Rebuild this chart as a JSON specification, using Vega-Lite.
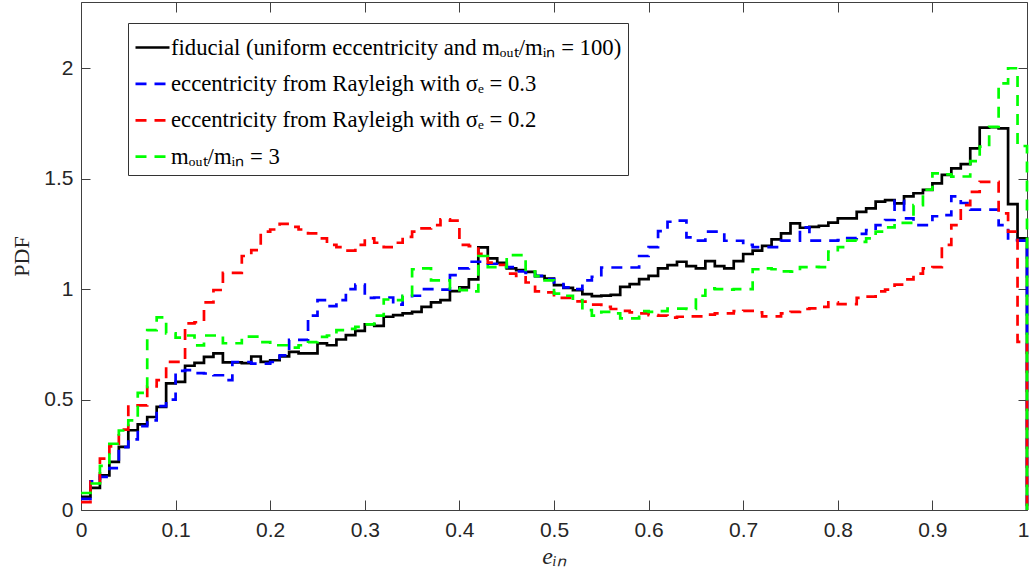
{
 "$schema": "https://vega.github.io/schema/vega-lite/v6.json",
 "width": 946, "height": 508,
 "autosize": {"type": "none"},
 "padding": {"left": 81, "top": 2, "right": 3, "bottom": 61},
 "background": "white",
 "config": {"view": {"stroke": "#404040", "strokeWidth": 1}, "font": "Liberation Sans"},
 "data": {"values": [
  {"e":0.00,"a":0.06,"b":0.05,"c":0.036,"d":0.077},
  {"e":0.01,"a":0.10,"b":0.13,"c":0.127,"d":0.12},
  {"e":0.02,"a":0.157,"b":0.15,"c":0.233,"d":0.2},
  {"e":0.03,"a":0.218,"b":0.19,"c":0.288,"d":0.3},
  {"e":0.04,"a":0.286,"b":0.285,"c":0.364,"d":0.36},
  {"e":0.05,"a":0.361,"b":0.32,"c":0.474,"d":0.406},
  {"e":0.06,"a":0.388,"b":0.38,"c":0.474,"d":0.53},
  {"e":0.07,"a":0.421,"b":0.406,"c":0.56,"d":0.814},
  {"e":0.08,"a":0.467,"b":0.47,"c":0.588,"d":0.872},
  {"e":0.09,"a":0.573,"b":0.50,"c":0.671,"d":0.8},
  {"e":0.10,"a":0.58,"b":0.63,"c":0.671,"d":0.78},
  {"e":0.11,"a":0.653,"b":0.633,"c":0.845,"d":0.79},
  {"e":0.12,"a":0.666,"b":0.62,"c":0.85,"d":0.745},
  {"e":0.13,"a":0.693,"b":0.618,"c":0.94,"d":0.79},
  {"e":0.14,"a":0.709,"b":0.61,"c":0.996,"d":0.79},
  {"e":0.15,"a":0.668,"b":0.588,"c":1.074,"d":0.755},
  {"e":0.16,"a":0.668,"b":0.67,"c":1.074,"d":0.755},
  {"e":0.17,"a":0.665,"b":0.67,"c":1.15,"d":0.785},
  {"e":0.18,"a":0.695,"b":0.663,"c":1.177,"d":0.785},
  {"e":0.19,"a":0.671,"b":0.663,"c":1.26,"d":0.76},
  {"e":0.20,"a":0.678,"b":0.67,"c":1.27,"d":0.746},
  {"e":0.21,"a":0.696,"b":0.70,"c":1.295,"d":0.746},
  {"e":0.22,"a":0.716,"b":0.77,"c":1.282,"d":0.735},
  {"e":0.23,"a":0.709,"b":0.77,"c":1.27,"d":0.746},
  {"e":0.24,"a":0.709,"b":0.88,"c":1.252,"d":0.76},
  {"e":0.25,"a":0.754,"b":0.95,"c":1.23,"d":0.784},
  {"e":0.26,"a":0.746,"b":0.923,"c":1.2,"d":0.79},
  {"e":0.27,"a":0.772,"b":0.95,"c":1.19,"d":0.814},
  {"e":0.28,"a":0.792,"b":1.0,"c":1.174,"d":0.82},
  {"e":0.29,"a":0.811,"b":1.02,"c":1.2,"d":0.829},
  {"e":0.30,"a":0.841,"b":0.96,"c":1.23,"d":0.84},
  {"e":0.31,"a":0.834,"b":0.962,"c":1.21,"d":0.88},
  {"e":0.32,"a":0.875,"b":0.962,"c":1.19,"d":0.953},
  {"e":0.33,"a":0.882,"b":0.93,"c":1.21,"d":0.95},
  {"e":0.34,"a":0.89,"b":0.968,"c":1.237,"d":0.97},
  {"e":0.35,"a":0.897,"b":0.97,"c":1.26,"d":1.09},
  {"e":0.36,"a":0.92,"b":1.0,"c":1.275,"d":1.094},
  {"e":0.37,"a":0.94,"b":1.0,"c":1.29,"d":1.04},
  {"e":0.38,"a":0.95,"b":0.998,"c":1.316,"d":1.04},
  {"e":0.39,"a":0.991,"b":1.063,"c":1.31,"d":1.003},
  {"e":0.40,"a":1.008,"b":1.094,"c":1.2,"d":0.995},
  {"e":0.41,"a":1.044,"b":1.124,"c":1.195,"d":0.99},
  {"e":0.42,"a":1.189,"b":1.124,"c":1.16,"d":1.15},
  {"e":0.43,"a":1.139,"b":1.115,"c":1.12,"d":1.10},
  {"e":0.44,"a":1.119,"b":1.115,"c":1.11,"d":1.10},
  {"e":0.45,"a":1.094,"b":1.10,"c":1.07,"d":1.154},
  {"e":0.46,"a":1.086,"b":1.08,"c":1.06,"d":1.154},
  {"e":0.47,"a":1.078,"b":1.074,"c":1.03,"d":1.08},
  {"e":0.48,"a":1.059,"b":1.06,"c":0.99,"d":1.059},
  {"e":0.49,"a":1.048,"b":1.045,"c":0.985,"d":1.04},
  {"e":0.50,"a":1.018,"b":1.03,"c":0.96,"d":0.98},
  {"e":0.51,"a":1.006,"b":1.008,"c":0.96,"d":0.97},
  {"e":0.52,"a":0.995,"b":1.0,"c":0.945,"d":0.95},
  {"e":0.53,"a":0.977,"b":1.04,"c":0.943,"d":0.905},
  {"e":0.54,"a":0.968,"b":1.056,"c":0.93,"d":0.88},
  {"e":0.55,"a":0.971,"b":1.098,"c":0.92,"d":0.897},
  {"e":0.56,"a":0.974,"b":1.098,"c":0.91,"d":0.89},
  {"e":0.57,"a":1.01,"b":1.098,"c":0.902,"d":0.868},
  {"e":0.58,"a":1.023,"b":1.098,"c":0.895,"d":0.868},
  {"e":0.59,"a":1.045,"b":1.15,"c":0.89,"d":0.9},
  {"e":0.60,"a":1.06,"b":1.19,"c":0.882,"d":0.897},
  {"e":0.61,"a":1.094,"b":1.263,"c":0.88,"d":0.90},
  {"e":0.62,"a":1.109,"b":1.305,"c":0.871,"d":0.912},
  {"e":0.63,"a":1.124,"b":1.31,"c":0.875,"d":0.912},
  {"e":0.64,"a":1.104,"b":1.234,"c":0.877,"d":0.91},
  {"e":0.65,"a":1.094,"b":1.22,"c":0.877,"d":0.97},
  {"e":0.66,"a":1.127,"b":1.26,"c":0.885,"d":1.003},
  {"e":0.67,"a":1.104,"b":1.26,"c":0.89,"d":1.0},
  {"e":0.68,"a":1.094,"b":1.219,"c":0.89,"d":0.998},
  {"e":0.69,"a":1.127,"b":1.219,"c":0.9,"d":1.0},
  {"e":0.70,"a":1.159,"b":1.2,"c":0.902,"d":1.0},
  {"e":0.71,"a":1.174,"b":1.19,"c":0.895,"d":1.09},
  {"e":0.72,"a":1.196,"b":1.19,"c":0.877,"d":1.094},
  {"e":0.73,"a":1.225,"b":1.19,"c":0.877,"d":1.09},
  {"e":0.74,"a":1.252,"b":1.22,"c":0.89,"d":1.08},
  {"e":0.75,"a":1.298,"b":1.22,"c":0.897,"d":1.079},
  {"e":0.76,"a":1.278,"b":1.28,"c":0.91,"d":1.10},
  {"e":0.77,"a":1.282,"b":1.22,"c":0.913,"d":1.101},
  {"e":0.78,"a":1.287,"b":1.22,"c":0.92,"d":1.10},
  {"e":0.79,"a":1.301,"b":1.22,"c":0.94,"d":1.17},
  {"e":0.80,"a":1.32,"b":1.222,"c":0.932,"d":1.19},
  {"e":0.81,"a":1.32,"b":1.231,"c":0.932,"d":1.22},
  {"e":0.82,"a":1.35,"b":1.25,"c":0.96,"d":1.214},
  {"e":0.83,"a":1.366,"b":1.267,"c":0.966,"d":1.23},
  {"e":0.84,"a":1.396,"b":1.29,"c":0.99,"d":1.26},
  {"e":0.85,"a":1.403,"b":1.313,"c":0.998,"d":1.28},
  {"e":0.86,"a":1.388,"b":1.40,"c":1.02,"d":1.30},
  {"e":0.87,"a":1.42,"b":1.32,"c":1.044,"d":1.30},
  {"e":0.88,"a":1.434,"b":1.29,"c":1.07,"d":1.38},
  {"e":0.89,"a":1.449,"b":1.29,"c":1.094,"d":1.45},
  {"e":0.90,"a":1.479,"b":1.33,"c":1.1,"d":1.524},
  {"e":0.91,"a":1.517,"b":1.335,"c":1.2,"d":1.52},
  {"e":0.92,"a":1.547,"b":1.42,"c":1.29,"d":1.509},
  {"e":0.93,"a":1.566,"b":1.39,"c":1.38,"d":1.51},
  {"e":0.94,"a":1.637,"b":1.36,"c":1.44,"d":1.58},
  {"e":0.95,"a":1.731,"b":1.36,"c":1.486,"d":1.645},
  {"e":0.96,"a":1.733,"b":1.36,"c":1.486,"d":1.735},
  {"e":0.97,"a":1.728,"b":1.29,"c":1.343,"d":1.932},
  {"e":0.98,"a":1.385,"b":1.222,"c":1.26,"d":2.0},
  {"e":0.99,"a":1.23,"b":1.22,"c":0.761,"d":1.648},
  {"e":1.00,"a":0,"b":0,"c":0,"d":0}
 ]},
 "transform": [{"fold": ["a","b","c","d"], "as": ["s","p"]}],
 "layer": [
  {"mark": {"type": "line", "interpolate": "step-after", "strokeWidth": 2.7},
   "encoding": {
    "x": {"field": "e", "type": "quantitative",
      "scale": {"domain": [0, 1], "nice": false, "zero": false},
      "axis": {"values": [0,0.1,0.2,0.3,0.4,0.5,0.6,0.7,0.8,0.9,1], "format": "~g", "grid": false, "domain": false,
        "labelFlush": false, "labelOverlap": false,
        "labelOffset": {"condition": {"test": "datum.value == 1", "value": -4}, "value": 0},
        "labelFont": "Liberation Sans", "labelFontSize": 21, "labelColor": "#262626",
        "tickColor": "#404040", "tickSize": -10, "labelPadding": 19,
        "title": "eᵢₙ", "titleFont": "Liberation Serif", "titleFontStyle": "italic", "titleFontWeight": "normal",
        "titleFontSize": 24, "titleColor": "#262626", "titlePadding": 4}},
    "y": {"field": "p", "type": "quantitative",
      "scale": {"domain": [0, 2.3], "nice": false},
      "axis": {"values": [0,0.5,1,1.5,2], "format": "~g", "grid": false, "domain": false,
        "labelFlush": false, "labelOverlap": false,
        "labelFont": "Liberation Sans", "labelFontSize": 21, "labelColor": "#262626",
        "tickColor": "#404040", "tickSize": -9, "labelPadding": 17,
        "title": "PDF", "titleFont": "Liberation Serif", "titleFontWeight": "normal",
        "titleFontSize": 22, "titleColor": "#262626", "titlePadding": 10}},
    "color": {"field": "s", "type": "nominal",
      "scale": {"domain": ["a","b","c","d"], "range": ["#000000","#0000ff","#ff0000","#00ff00"]},
      "legend": {"title": null, "orient": "none", "legendX": 47, "legendY": 21, "direction": "vertical",
        "symbolType": "stroke", "symbolSize": 1156, "symbolStrokeWidth": 2.7,
        "labelFont": "Liberation Serif", "labelFontSize": 22.7, "labelColor": "#000000", "labelLimit": 0, "labelOffset": 0,
        "padding": 6, "rowPadding": 5.4, "strokeColor": "#333333", "fillColor": "#ffffff", "cornerRadius": 0,
        "labelExpr": "{'a': 'fiducial (uniform eccentricity and mₒᵤₜ/mᵢₙ = 100)', 'b': 'eccentricity from Rayleigh with σₑ = 0.3', 'c': 'eccentricity from Rayleigh with σₑ = 0.2', 'd': 'mₒᵤₜ/mᵢₙ = 3'}[datum.value]"}},
    "strokeDash": {"field": "s", "type": "nominal",
      "scale": {"domain": ["a","b","c","d"], "range": [[1,0],[11,8],[11,8],[11,8]]},
      "legend": {"title": null, "orient": "none", "legendX": 47, "legendY": 21, "direction": "vertical",
        "symbolType": "stroke", "symbolSize": 1156, "symbolStrokeWidth": 2.7,
        "labelFont": "Liberation Serif", "labelFontSize": 22.7, "labelColor": "#000000", "labelLimit": 0, "labelOffset": 0,
        "padding": 6, "rowPadding": 5.4, "strokeColor": "#333333", "fillColor": "#ffffff", "cornerRadius": 0,
        "labelExpr": "{'a': 'fiducial (uniform eccentricity and mₒᵤₜ/mᵢₙ = 100)', 'b': 'eccentricity from Rayleigh with σₑ = 0.3', 'c': 'eccentricity from Rayleigh with σₑ = 0.2', 'd': 'mₒᵤₜ/mᵢₙ = 3'}[datum.value]"}}
   }},
  {"mark": {"type": "point", "opacity": 0},
   "encoding": {
    "x": {"field": "e", "type": "quantitative",
      "scale": {"domain": [0, 1], "nice": false, "zero": false},
      "axis": {"orient": "top", "values": [0,0.1,0.2,0.3,0.4,0.5,0.6,0.7,0.8,0.9,1], "labels": false, "grid": false, "domain": false,
        "tickColor": "#404040", "tickSize": -10, "title": null}},
    "y": {"field": "p", "type": "quantitative",
      "scale": {"domain": [0, 2.3], "nice": false},
      "axis": {"orient": "right", "values": [0,0.5,1,1.5,2], "labels": false, "grid": false, "domain": false,
        "tickColor": "#404040", "tickSize": -9, "title": null}}
   }}
 ],
 "resolve": {"scale": {"x": "independent", "y": "independent"}}
}
